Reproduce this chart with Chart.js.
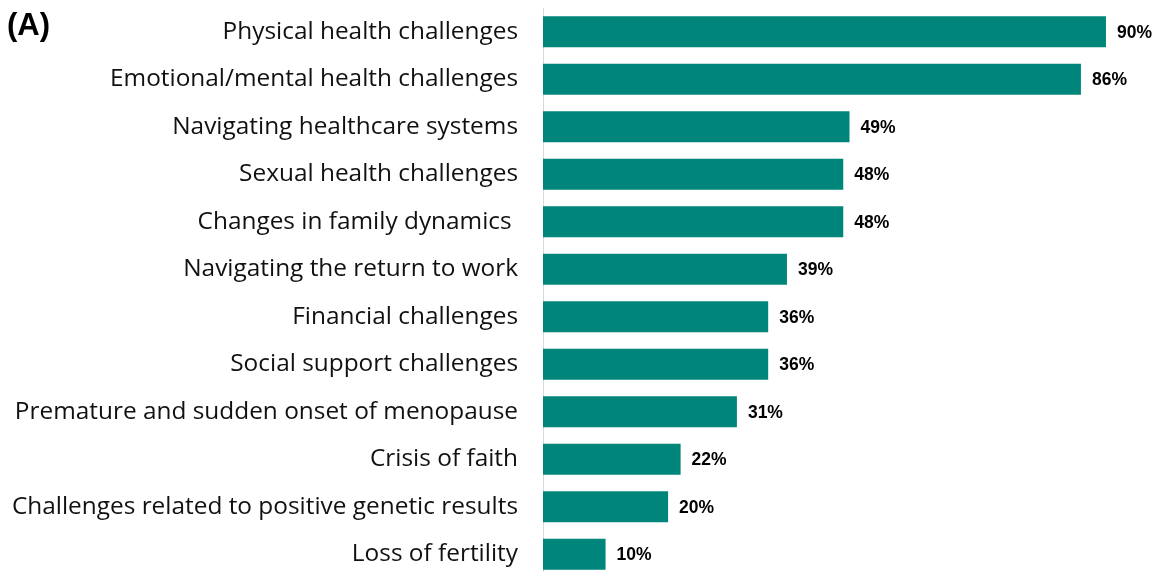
<!DOCTYPE html>
<html>
<head>
<meta charset="utf-8">
<script src="https://cdn.jsdelivr.net/npm/chart.js@4"></script>
<style>
  html, body { margin: 0; padding: 0; background: #fff; overflow: hidden; }
  #wrap { width: 1159px; height: 578px; }
</style>
</head>
<body>
<div id="wrap"><canvas id="c" width="1159" height="578"></canvas></div>
<script>
const categories = [
  "Physical health challenges",
  "Emotional/mental health challenges",
  "Navigating healthcare systems",
  "Sexual health challenges",
  "Changes in family dynamics ",
  "Navigating the return to work",
  "Financial challenges",
  "Social support challenges",
  "Premature and sudden onset of menopause",
  "Crisis of faith",
  "Challenges related to positive genetic results",
  "Loss of fertility"
];
const values = [90, 86, 49, 48, 48, 39, 36, 36, 31, 22, 20, 10];
const panelLabel = "(A)";

const valueLabels = {
  id: 'valueLabels',
  afterDatasetsDraw(chart) {
    const ctx = chart.ctx;
    const meta = chart.getDatasetMeta(0);
    ctx.save();
    ctx.font = 'bold 17.5px "Liberation Sans", Arial, sans-serif';
    ctx.fillStyle = '#000';
    ctx.textAlign = 'left';
    ctx.textBaseline = 'middle';
    meta.data.forEach((bar, i) => {
      ctx.fillText(values[i] + '%', bar.x + 11, bar.y + 1);
    });
    ctx.font = 'bold 31px "Liberation Sans", Arial, sans-serif';
    ctx.fillText(panelLabel, 7, 26);
    ctx.restore();
  }
};

new Chart(document.getElementById('c'), {
  type: 'bar',
  data: {
    labels: categories,
    datasets: [{
      data: values,
      backgroundColor: '#00857A',
      borderWidth: 0,
      barPercentage: 0.653,
      categoryPercentage: 1.0
    }]
  },
  options: {
    indexAxis: 'y',
    responsive: false,
    animation: false,
    layout: { padding: { top: 8, right: 3, left: 0, bottom: 0 } },
    plugins: { legend: { display: false }, tooltip: { enabled: false } },
    scales: {
      x: { display: false, min: 0, max: 98 },
      y: {
        afterFit(s) { s.width = 543; s.paddingTop = 0; s.paddingBottom = 0; },
        grid: { display: false, drawTicks: false },
        border: { display: true, color: '#d9d9d9', width: 1 },
        ticks: {
          padding: 25,
          color: '#111111',
          font: { family: '"Open Sans", sans-serif', size: 24.4 }
        }
      }
    }
  },
  plugins: [valueLabels]
});
</script>
</body>
</html>
